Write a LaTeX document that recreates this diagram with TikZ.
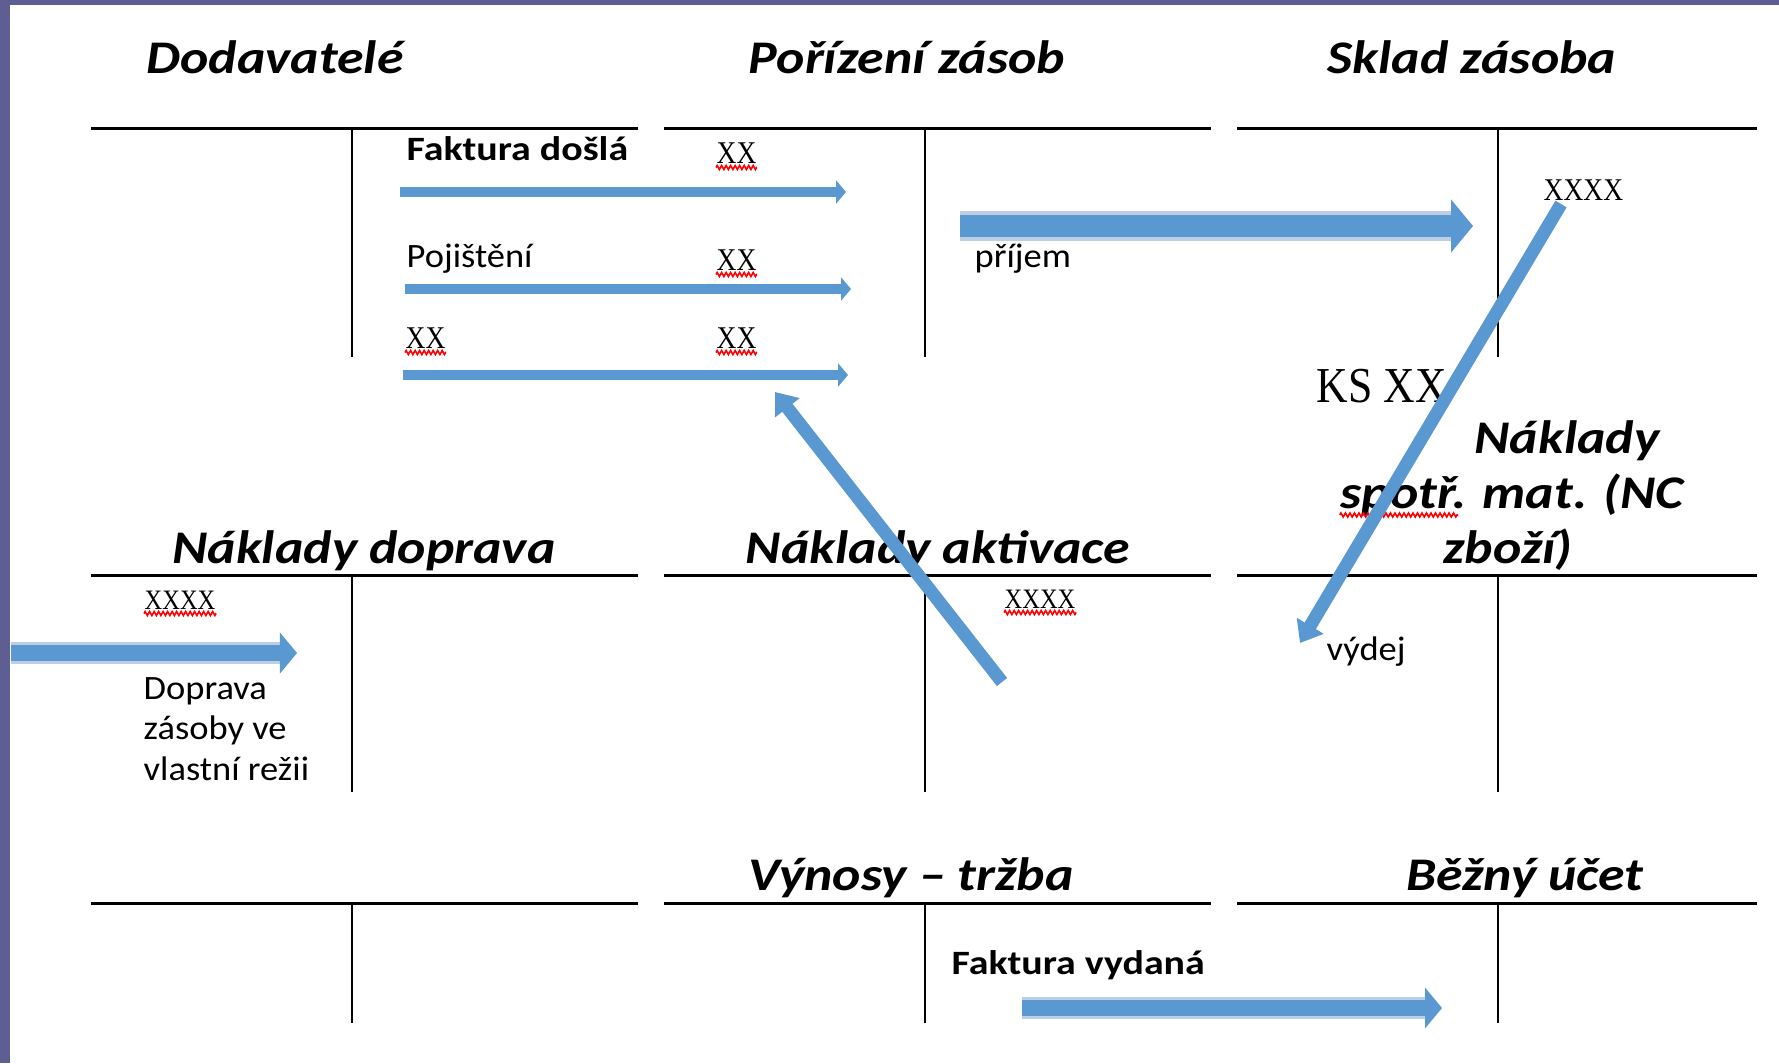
\documentclass[tikz,border=0pt]{standalone}
\usepackage{fontspec}
\setmainfont{Carlito}[UprightFeatures = {FakeStretch = 1.07},
  BoldFeatures = {FakeStretch = 1.17}, BoldItalicFeatures = {FakeStretch = 1.15}]
\newfontfamily\amtfont[FakeStretch=0.87]{Liberation Serif}
\usetikzlibrary{arrows.meta, decorations.pathmorphing}

\definecolor{frame}{RGB}{94,94,146}
\definecolor{arrowblue}{RGB}{90,152,210}
\definecolor{arrowhalo}{RGB}{190,206,226}

\begin{document}
\begin{tikzpicture}[x = 0.01cm, y = -0.01cm,
    every node/.style = { inner sep = 0pt },
    title/.style = { font = \fontsize{13.3pt}{16pt}\selectfont\bfseries\itshape, anchor = base },
    lbl/.style = { font = \fontsize{9.7pt}{11.4pt}\selectfont, anchor = base west, align = left },
    bold lbl/.style = { lbl, font = \fontsize{9.7pt}{11.4pt}\selectfont\bfseries },
    amt/.style = { font = \amtfont\fontsize{9pt}{10pt}\selectfont, anchor = base west },
    small amt/.style = { amt, font = \amtfont\fontsize{8pt}{9pt}\selectfont },
    big amt/.style = { amt, font = \amtfont\fontsize{14.3pt}{16pt}\selectfont },
    taccount/.style = { line width = 0.03cm },
    tsplit/.style = { line width = 0.02cm },
    thin arrow/.style = { arrowblue, line width = 0.1cm, -{Triangle[width = 0.23cm, length = 0.1cm]} },
    fat arrow/.style = { arrowblue, line width = 0.16cm, -{Triangle[width = 0.4cm, length = 0.17cm]},
      preaction = { draw = arrowhalo, -, line width = 0.22cm, shorten > = 0.17cm } },
    big arrow/.style = { arrowblue, line width = 0.22cm, -{Triangle[width = 0.52cm, length = 0.22cm]},
      preaction = { draw = arrowhalo, -, line width = 0.30cm, shorten > = 0.22cm } },
    diag arrow/.style = { arrowblue, line width = 0.13cm, -{Triangle[width = 0.3cm, length = 0.2cm]} },
    squiggle/.style = { red, line width = 0.016cm, decorate,
      decoration = { zigzag, amplitude = 0.02cm, segment length = 0.045cm } }
  ]
  % background and frame
  \fill[white] (0,0) rectangle (1779,1063);
  \fill[frame] (0,0) rectangle (1779,5);
  \fill[frame] (0,0) rectangle (10,1063);
  \useasboundingbox (0,0) rectangle (1779,1063);

  % the T accounts
  \foreach \ty/\by in {128/357, 575/792, 903/1023} {
    \foreach \xl/\xs/\xr in {91/352/638, 664/925/1211, 1237/1498/1757} {
      \draw[taccount] (\xl,\ty) -- (\xr,\ty);
      \draw[tsplit] (\xs,\ty) -- (\xs,\by);
    }
  }

  % account names
  \node[title] (dodavatele) at (275,73) {Dodavatelé};
  \node[title] (porizeni) at (907,73) {Pořízení zásob};
  \node[title] (sklad) at (1472,73) {Sklad zásoba};
  \node[title] (doprava) at (364,563) {Náklady doprava};
  \node[title] (aktivace) at (938,563) {Náklady aktivace};
  \node[title] (spotreba1) at (1567,453) {Náklady};
  \node[title] (spotreba2) at (1512,508) {spotř. mat. (NC};
  \node[title] (spotreba3) at (1508,563) {zboží)};
  \node[title] (vynosy) at (911,890) {Výnosy – tržba};
  \node[title] (ucet) at (1525,890) {Běžný účet};

  % entries
  \node[bold lbl] (fdosla) at (406,160) {Faktura došlá};
  \node[lbl] (pojisteni) at (406,267) {Pojištění};
  \node[amt] (xxa) at (405,348) {XX};
  \node[amt] (xxb) at (716,163) {XX};
  \node[amt] (xxc) at (716,270) {XX};
  \node[amt] (xxd) at (716,348) {XX};
  \node[lbl] (prijem) at (974,267) {příjem};
  \node[amt] (xxxxsklad) at (1543,200) {XXXX};
  \node[big amt] (ks) at (1316,402) {KS XX};
  \node[lbl] (vydej) at (1326,660) {výdej};
  \node[small amt] (xxxxdoprava) at (144,609) {XXXX};
  \node[small amt] (xxxxaktivace) at (1004,608) {XXXX};
  \node[lbl] (dopravatext) at (143,780) {Doprava\\zásoby ve\\vlastní režii};
  \node[bold lbl] (fvydana) at (951,974) {Faktura vydaná};

  % spelling marks
  \foreach \n in {xxa, xxb, xxc, xxd, xxxxdoprava, xxxxaktivace}
    \draw[squiggle] ([yshift = -0.045cm]\n.base west) -- ([yshift = -0.045cm]\n.base east);
  \coordinate (spotrend) at (1458,515);
  \draw[squiggle] ([yshift = -0.07cm]spotreba2.base west) -- (spotrend);

  % arrows
  \coordinate (fdosla start) at (400,192);
  \coordinate (fdosla end) at (846,192);
  \coordinate (pojisteni start) at (405,289);
  \coordinate (pojisteni end) at (851,289);
  \coordinate (xx start) at (403,375);
  \coordinate (xx end) at (848,375);
  \coordinate (prijem start) at (960,226);
  \coordinate (prijem end) at (1473,226);
  \coordinate (doprava start) at (11,653);
  \coordinate (doprava end) at (297,653);
  \coordinate (fvydana start) at (1022,1008);
  \coordinate (fvydana end) at (1442,1008);
  \coordinate (aktivace start) at (1002,682);
  \coordinate (aktivace end) at (775,392);
  \coordinate (vydej start) at (1561,204);
  \coordinate (vydej end) at (1300,643);

  \draw[thin arrow] (fdosla start) -- (fdosla end);
  \draw[thin arrow] (pojisteni start) -- (pojisteni end);
  \draw[thin arrow] (xx start) -- (xx end);
  \draw[big arrow] (prijem start) -- (prijem end);
  \draw[fat arrow] (doprava start) -- (doprava end);
  \draw[fat arrow] (fvydana start) -- (fvydana end);
  \draw[diag arrow] (aktivace start) -- (aktivace end);
  \draw[diag arrow] (vydej start) -- (vydej end);
\end{tikzpicture}
\end{document}
